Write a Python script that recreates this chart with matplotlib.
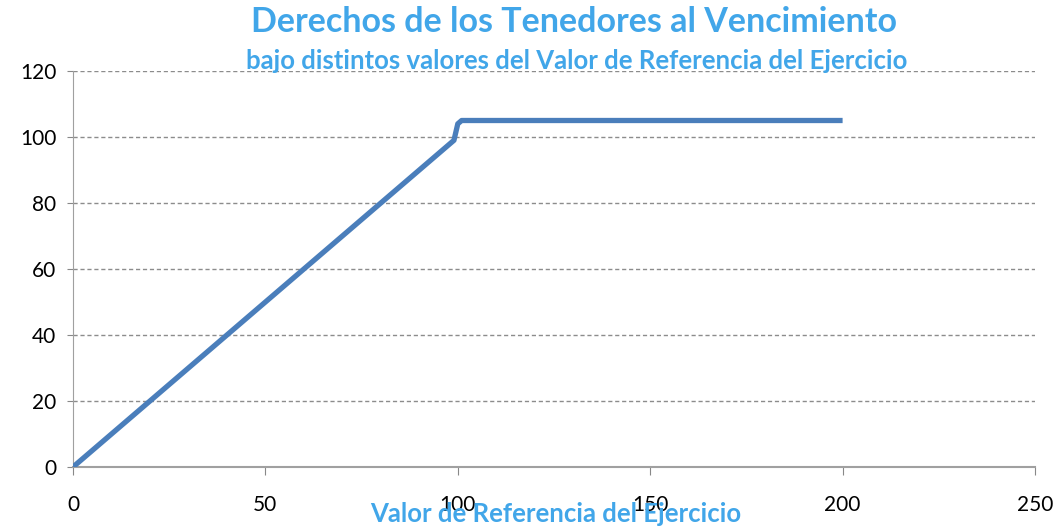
import matplotlib.pyplot as plt

# Holder payoff at maturity vs. reference value
ref_value = [0, 99, 100, 101, 200]
payoff = [0, 99, 104, 105, 105]

x_ticks = [0, 50, 100, 150, 200, 250]
y_ticks = [0, 20, 40, 60, 80, 100, 120]

title_color = "#41A6E9"
line_color = "#4A7EBB"

plt.rcParams["font.family"] = ["Lato", "DejaVu Sans"]

fig = plt.figure(figsize=(10.6, 5.29), dpi=100)
ax = fig.add_axes([73 / 1060, 1 - 467 / 529, (1035 - 73) / 1060, (467 - 71) / 529])

ax.plot(ref_value, payoff, color=line_color, linewidth=3.8, solid_joinstyle="round",
        solid_capstyle="butt", zorder=3)

ax.set_xlim(0, 250)
ax.set_ylim(0, 120)
ax.set_xticks(x_ticks)
ax.set_yticks(y_ticks)
ax.tick_params(axis="both", labelsize=15, colors="#888888", labelcolor="black")
ax.tick_params(axis="x", length=6, direction="out", pad=14)
ax.tick_params(axis="y", length=4, direction="out", pad=8)

ax.grid(axis="y", linestyle=(0, (3, 2)), color="#8C8C8C", linewidth=1.0)
for s in ["top", "right"]:
    ax.spines[s].set_visible(False)
ax.spines["left"].set_color("#A0A0A0")
ax.spines["bottom"].set_color("#A0A0A0")
ax.spines["bottom"].set_linewidth(1.5)

fig.text(574 / 1060, 1 - 22 / 529, "Derechos de los Tenedores al Vencimiento",
         ha="center", va="center", fontsize=24.5, fontweight="bold", color=title_color)
fig.text(577 / 1060, 1 - 61 / 529, "bajo distintos valores del Valor de Referencia del Ejercicio",
         ha="center", va="center", fontsize=18.5, fontweight="bold", color=title_color)
fig.text(556 / 1060, 1 - 514 / 529, "Valor de Referencia del Ejercicio",
         ha="center", va="center", fontsize=18.5, fontweight="bold", color=title_color)

fig.savefig("out.png", dpi=100)
